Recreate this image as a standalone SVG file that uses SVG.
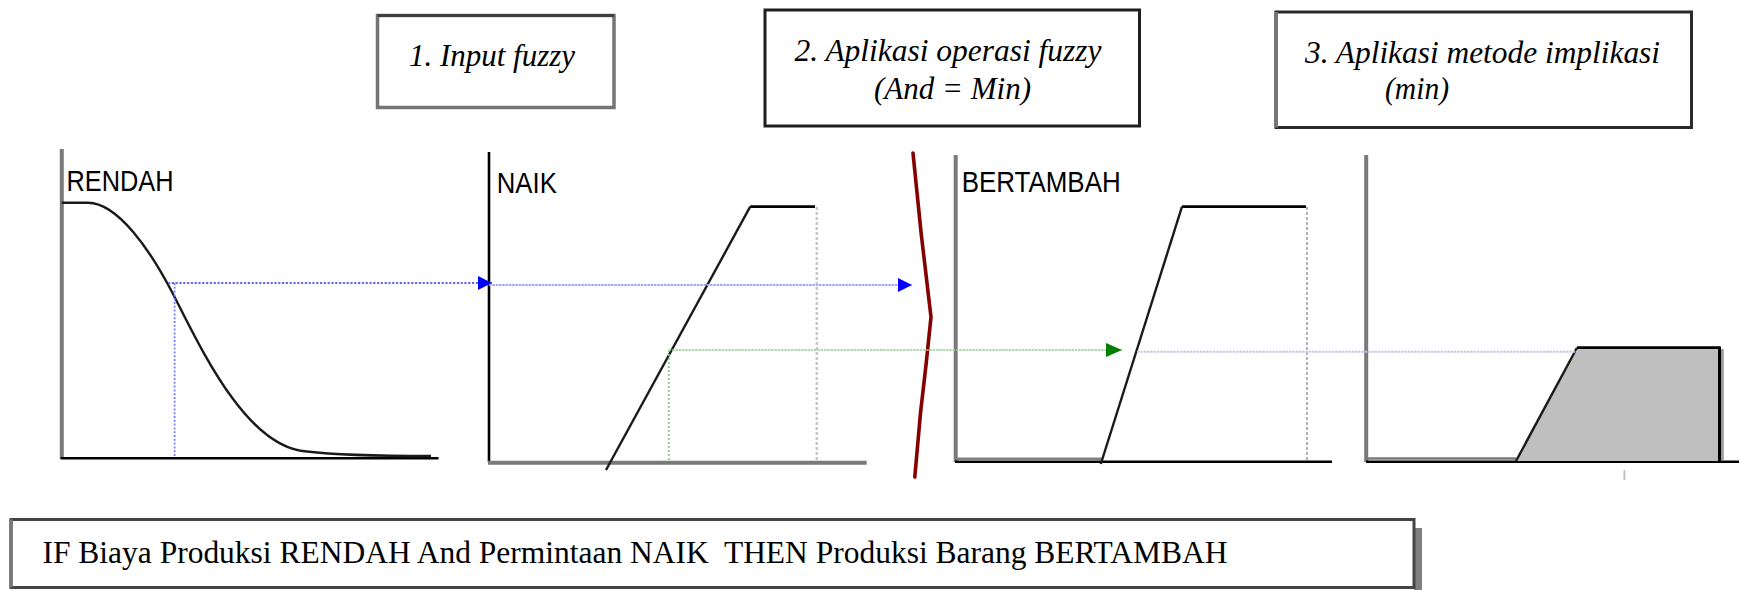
<svg xmlns="http://www.w3.org/2000/svg" width="1739" height="590" viewBox="0 0 1739 590">
<style>
  .title { font-family: "Liberation Serif", "Times New Roman", serif; font-style: italic; font-size: 31px; fill: #000; }
  .rule { font-family: "Liberation Serif", "Times New Roman", serif; font-size: 31px; fill: #000; }
  .lbl { font-family: "Liberation Sans", Arial, sans-serif; font-size: 30px; fill: #000; }
  .axisG { stroke: #7a7a7a; stroke-width: 4; fill: none; }
  .axisK { stroke: #000; stroke-width: 2.6; fill: none; }
  .mf { stroke: #1a1a1a; stroke-width: 2.4; fill: none; }
  .mftop { stroke: #000; stroke-width: 2.8; fill: none; }
  .grid { stroke: #c8c8c8; stroke-width: 2.5; stroke-dasharray: 3 2; fill: none; }
</style>
<defs>
  <marker id="headBlue" markerUnits="userSpaceOnUse" markerWidth="15" markerHeight="15" refX="14" refY="7" orient="auto">
    <path d="M0,0 L14,7 L0,14 Z" fill="#0000ff"/>
  </marker>
  <marker id="headGreen" markerUnits="userSpaceOnUse" markerWidth="17" markerHeight="15" refX="16" refY="7" orient="auto">
    <path d="M0,0 L16,7 L0,14 Z" fill="#008000"/>
  </marker>
</defs>
<rect width="1739" height="590" fill="#ffffff"/>

<!-- step boxes -->
<g id="box1">
  <rect x="377.5" y="15.5" width="236.5" height="92" fill="#fff" stroke="#747474" stroke-width="3.5"/>
  <line x1="377.5" y1="15.5" x2="614" y2="15.5" stroke="#404040" stroke-width="3"/>
  <text class="title" x="409" y="66" textLength="166" lengthAdjust="spacingAndGlyphs">1. Input fuzzy</text>
</g>
<g id="box2">
  <rect x="765" y="10" width="374.5" height="116" fill="#fff" stroke="#1e1e1e" stroke-width="3"/>
  <text class="title" x="794.5" y="61" textLength="307" lengthAdjust="spacingAndGlyphs">2. Aplikasi operasi fuzzy</text>
  <text class="title" x="874" y="99" textLength="157" lengthAdjust="spacingAndGlyphs">(And = Min)</text>
</g>
<g id="box3">
  <rect x="1276" y="12" width="415.5" height="115.5" fill="#fff" stroke="#2a2a2a" stroke-width="3"/>
  <line x1="1276" y1="12" x2="1276" y2="127.5" stroke="#777" stroke-width="4"/>
  <text class="title" x="1305" y="63" textLength="355" lengthAdjust="spacingAndGlyphs">3. Aplikasi metode implikasi</text>
  <text class="title" x="1385" y="99" textLength="64" lengthAdjust="spacingAndGlyphs">(min)</text>
</g>

<!-- panel 1: RENDAH -->
<g id="panel-rendah">
  <line class="axisG" x1="61.8" y1="149" x2="61.8" y2="458.5" stroke-width="3"/>
  <line class="axisK" x1="60.5" y1="458.3" x2="438.5" y2="458.3"/>
  <text class="lbl" x="66.5" y="191" textLength="107" lengthAdjust="spacingAndGlyphs">RENDAH</text>
  <path class="mf" d="M61.8,202.7 L88,202.7 C118,203 150,250 172,292 C198,342 245,448 307,451.5 C335,455 380,456 431,456"/>
</g>

<!-- panel 2: NAIK -->
<g id="panel-naik">
  <line class="axisK" x1="489" y1="152" x2="489" y2="462" stroke-width="3"/>
  <line class="axisG" x1="488" y1="462.7" x2="866.7" y2="462.7" stroke-width="4.5"/>
  <text class="lbl" x="496.8" y="192.7" textLength="60" lengthAdjust="spacingAndGlyphs">NAIK</text>
  <line class="grid" x1="816.8" y1="207" x2="816.8" y2="461"/>
  <line class="mf" x1="606" y1="470" x2="750.2" y2="206.7"/>
  <line class="mftop" x1="750.2" y1="206.7" x2="815" y2="206.7"/>
</g>

<!-- divider -->
<g id="divider">
  <path d="M913,153 L921,232 L931,317 L926,365 L920.5,413 L914.8,477" fill="none" stroke="#850000" stroke-width="3.6" stroke-linejoin="round" stroke-linecap="round"/>
</g>

<!-- panel 3: BERTAMBAH -->
<g id="panel-bertambah">
  <line class="axisG" x1="955.7" y1="155" x2="955.7" y2="462" stroke-width="4.5"/>
  <line x1="955" y1="458.8" x2="1101.6" y2="458.8" stroke="#808080" stroke-width="2.5"/>
  <line class="axisK" x1="955" y1="461.7" x2="1332" y2="461.7"/>
  <text class="lbl" x="961.7" y="192" textLength="159" lengthAdjust="spacingAndGlyphs">BERTAMBAH</text>
  <line x1="1307" y1="207" x2="1307" y2="461" stroke="#a0a0a0" stroke-width="1.6" stroke-dasharray="3 2"/>
  <line class="mf" x1="1100.8" y1="464" x2="1182" y2="206.7"/>
  <line class="mftop" x1="1182" y1="206.7" x2="1306" y2="206.7"/>
</g>

<!-- panel 4: implication output -->
<g id="panel-output">
  <line class="axisG" x1="1366.2" y1="155" x2="1366.2" y2="462" stroke="#6a6a6a" stroke-width="4.5"/>
  <line x1="1366" y1="458.5" x2="1516" y2="458.5" stroke="#7a7a7a" stroke-width="2.5"/>
  <line class="axisK" x1="1366" y1="461.7" x2="1739" y2="461.7"/>
  <line x1="1722" y1="349" x2="1722" y2="460" stroke="#9a9a9a" stroke-width="3.5"/>
  <path d="M1516,461 L1577,347.7 L1719.5,347.7 L1719.5,461 Z" fill="#bfbfbf" stroke="none"/>
  <line class="mf" x1="1516" y1="461" x2="1577" y2="347.7"/>
  <line class="mftop" x1="1577" y1="347.7" x2="1719.5" y2="347.7"/>
  <line x1="1719.5" y1="346.5" x2="1719.5" y2="461" stroke="#000" stroke-width="3"/>
  <line x1="1624.4" y1="470" x2="1624.4" y2="480" stroke="#bdbdbd" stroke-width="1.8"/>
</g>

<!-- connectors -->
<g id="connectors" fill="none">
  <line x1="174.6" y1="283" x2="174.6" y2="457" stroke="#7b7bff" stroke-width="1.8" stroke-dasharray="2 1.8"/>
  <line x1="168" y1="283" x2="492" y2="283" stroke="#6464ff" stroke-width="2" stroke-dasharray="2.2 1.6" marker-end="url(#headBlue)"/>
  <line x1="489" y1="285" x2="912" y2="285" stroke="#a4a4ff" stroke-width="2" stroke-dasharray="2.5 0.8" marker-end="url(#headBlue)"/>
  <line x1="668.8" y1="350" x2="668.8" y2="461" stroke="#8fc98f" stroke-width="1.8" stroke-dasharray="2 2"/>
  <line x1="668.8" y1="350" x2="1122" y2="350" stroke="#98cc98" stroke-width="1.6" stroke-dasharray="2.5 0.8" marker-end="url(#headGreen)"/>
  <line x1="1137" y1="351.7" x2="1577" y2="351.7" stroke="#c8c8ee" stroke-width="2" stroke-dasharray="2.5 0.8"/>
</g>

<!-- rule box -->
<g id="rule-box">
  <rect x="1414" y="528" width="8" height="62" fill="#808080"/>
  <rect x="11" y="519.5" width="1403" height="68" fill="#fff" stroke="#444" stroke-width="3"/>
  <line x1="11" y1="519.5" x2="11" y2="587.5" stroke="#777" stroke-width="3.5"/>
  <text class="rule" x="42.5" y="563" textLength="1185" lengthAdjust="spacingAndGlyphs" xml:space="preserve">IF Biaya Produksi RENDAH And Permintaan NAIK  THEN Produksi Barang BERTAMBAH</text>
</g>
</svg>
